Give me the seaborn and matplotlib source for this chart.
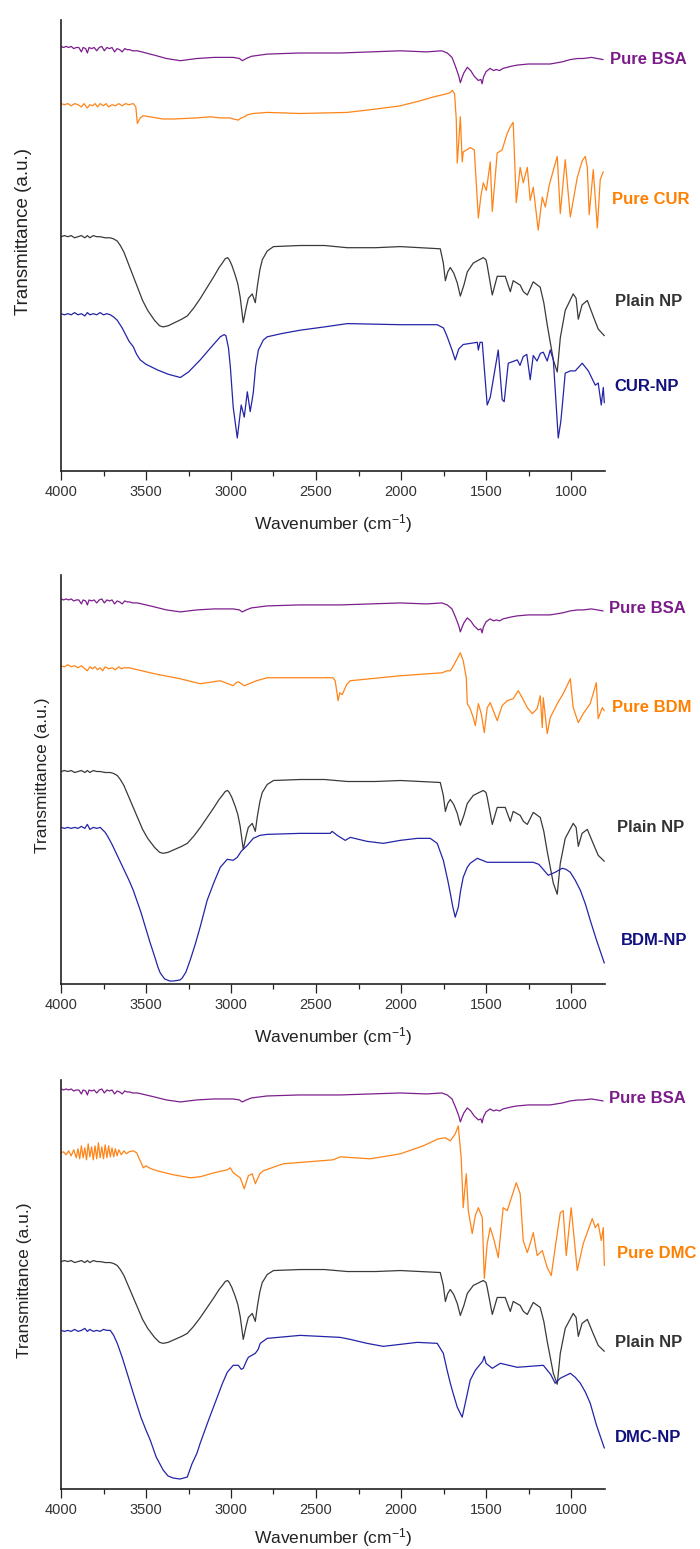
"""FTIR spectra of BSA, drugs and nanoparticles (three stacked panels)."""
import matplotlib
matplotlib.use("Agg")
import matplotlib.pyplot as plt
from matplotlib.ticker import MultipleLocator
import pandas as pd
import seaborn as sns

# ---- data: (wavenumber cm-1, transmittance a.u.) ----
# spectra shared by all panels, relative to their own baseline
PURE_BSA = [
    (4000, 0), (3985, -1), (3970, 0), (3955, -1), (3940, 0), (3925, -2), (3910, -1),
    (3895, -1), (3880, -5), (3870, -1), (3855, -2), (3845, -6), (3835, -1), (3820, -2),
    (3805, -1), (3790, -4), (3775, -1), (3760, 0), (3745, -4), (3730, -1), (3715, -2),
    (3700, -1), (3685, -5), (3670, -2), (3655, -3), (3640, -5), (3625, -2), (3610, -3),
    (3595, -3), (3580, -4), (3550, -4), (3500, -6), (3450, -8), (3380, -11), (3298, -13),
    (3250, -12), (3200, -11), (3100, -10), (2987, -10), (2950, -11), (2934, -13),
    (2910, -11), (2880, -9), (2787, -7), (2600, -6), (2358, -6), (2004, -4), (1850, -5),
    (1760, -4), (1728, -6), (1700, -10), (1680, -18), (1660, -27), (1651, -33),
    (1640, -28), (1630, -24), (1610, -19), (1590, -22), (1570, -27), (1545, -31),
    (1530, -30), (1523, -34), (1515, -28), (1500, -23), (1476, -20), (1455, -22),
    (1440, -21), (1420, -22), (1400, -20), (1350, -18), (1317, -17), (1250, -16),
    (1200, -16), (1123, -16), (1050, -14), (1005, -12), (960, -11), (929, -11),
    (880, -10), (811, -12),
]
PLAIN_NP = [
    (4000, 0), (3980, 1), (3960, 0), (3940, 1), (3920, -1), (3900, 0), (3880, 1),
    (3860, -1), (3845, 1), (3830, -1), (3810, 1), (3790, 0), (3770, 0), (3740, -1),
    (3710, -1), (3690, -2), (3669, -4), (3651, -8), (3630, -14), (3610, -22), (3580, -34),
    (3550, -46), (3520, -58), (3490, -67), (3450, -76), (3420, -81), (3399, -82),
    (3370, -81), (3330, -78), (3290, -75), (3257, -72), (3220, -65), (3180, -56),
    (3140, -46), (3100, -36), (3070, -28), (3051, -24), (3034, -20), (3020, -19),
    (3010, -21), (2995, -26), (2975, -35), (2960, -43), (2946, -55), (2928, -78),
    (2910, -64), (2898, -56), (2875, -52), (2857, -60), (2845, -45), (2830, -30),
    (2816, -21), (2787, -13), (2750, -9), (2593, -8), (2450, -8), (2316, -10),
    (2150, -10), (2004, -9), (1769, -11), (1751, -24), (1739, -40), (1725, -32),
    (1710, -28), (1690, -33), (1669, -42), (1651, -54), (1630, -44), (1610, -32),
    (1575, -24), (1540, -21), (1516, -19), (1500, -21), (1493, -26), (1463, -53),
    (1434, -36), (1410, -36), (1387, -36), (1357, -50), (1340, -40), (1299, -44),
    (1280, -50), (1257, -53), (1222, -41), (1181, -46), (1160, -60), (1140, -80),
    (1104, -112), (1081, -123), (1063, -92), (1034, -67), (987, -52), (970, -56),
    (957, -75), (935, -62), (904, -58), (870, -72), (840, -84), (804, -90),
]
BSA_BASE = [386, 386, 401]
NP_BASE = [213, 213, 228]

# panel-specific spectra (stacked values)
PURE_CUR = [
    (4000, 334), (3980, 333), (3960, 334), (3940, 332), (3920, 334), (3900, 333),
    (3880, 331), (3865, 334), (3845, 330), (3830, 333), (3815, 332), (3800, 334),
    (3785, 331), (3770, 334), (3750, 332), (3735, 334), (3720, 331), (3700, 333),
    (3680, 332), (3660, 334), (3640, 332), (3620, 334), (3600, 333), (3575, 334),
    (3560, 331), (3551, 316), (3534, 321), (3516, 323), (3400, 320), (3339, 320),
    (3200, 321), (3122, 322), (3063, 321), (3004, 321), (2987, 320), (2957, 319),
    (2940, 321), (2922, 322), (2900, 324), (2869, 325), (2787, 326), (2593, 325),
    (2316, 326), (2150, 329), (2004, 332), (1900, 336), (1810, 340), (1730, 343),
    (1710, 344), (1698, 346), (1685, 343), (1675, 320), (1669, 280), (1660, 300),
    (1651, 322), (1645, 300), (1640, 281), (1634, 290), (1593, 294), (1569, 292),
    (1545, 230), (1530, 250), (1516, 262), (1498, 255), (1475, 281), (1463, 236),
    (1434, 289), (1405, 292), (1375, 307), (1357, 313), (1340, 317), (1322, 244),
    (1299, 276), (1281, 262), (1257, 276), (1240, 246), (1222, 258), (1193, 219),
    (1169, 249), (1151, 240), (1128, 260), (1081, 286), (1063, 234), (1034, 283),
    (1004, 231), (963, 267), (934, 282), (916, 286), (904, 276), (893, 233),
    (869, 274), (845, 221), (828, 265), (810, 272),
]
CUR_NP = [
    (4000, 143), (3980, 142), (3960, 143), (3940, 142), (3920, 144), (3900, 142),
    (3880, 143), (3860, 141), (3845, 144), (3830, 142), (3810, 143), (3790, 142),
    (3770, 144), (3750, 142), (3730, 143), (3710, 142), (3690, 140), (3669, 137),
    (3640, 130), (3600, 118), (3575, 113), (3555, 106), (3534, 101), (3500, 97),
    (3434, 92), (3370, 88), (3298, 85), (3250, 90), (3181, 101), (3120, 112),
    (3063, 122), (3040, 124), (3030, 123), (3015, 112), (3004, 95), (2987, 58),
    (2963, 30), (2940, 60), (2922, 49), (2904, 72), (2887, 54), (2869, 71), (2855, 95),
    (2839, 110), (2810, 119), (2787, 122), (2700, 125), (2593, 128), (2450, 131),
    (2316, 134), (2004, 133), (1787, 133), (1750, 130), (1728, 122), (1700, 110),
    (1681, 101), (1660, 111), (1634, 115), (1551, 117), (1545, 110), (1535, 117),
    (1522, 117), (1493, 60), (1475, 67), (1428, 110), (1405, 65), (1393, 63),
    (1369, 98), (1316, 101), (1300, 96), (1281, 104), (1260, 106), (1240, 83),
    (1222, 105), (1200, 100), (1180, 107), (1163, 108), (1140, 100), (1122, 110),
    (1104, 101), (1075, 30), (1060, 45), (1052, 58), (1034, 89), (1004, 91),
    (975, 91), (934, 98), (898, 91), (857, 78), (840, 80), (822, 60), (810, 76),
    (804, 62),
]
PURE_BDM = [
    (4000, 319), (3980, 318), (3960, 320), (3940, 318), (3920, 319), (3900, 317),
    (3880, 319), (3860, 316), (3845, 314), (3830, 318), (3815, 316), (3800, 318),
    (3785, 315), (3770, 317), (3755, 314), (3740, 318), (3720, 316), (3700, 317),
    (3680, 315), (3660, 318), (3645, 316), (3630, 317), (3600, 317), (3575, 316),
    (3450, 311), (3300, 306), (3181, 301), (3063, 304), (2987, 299), (2970, 302),
    (2957, 303), (2922, 299), (2850, 304), (2787, 307), (2400, 307), (2387, 304),
    (2370, 284), (2360, 292), (2346, 290), (2320, 300), (2299, 304), (2004, 309),
    (1757, 312), (1730, 314), (1710, 314), (1698, 317), (1651, 332), (1634, 324),
    (1616, 307), (1610, 281), (1593, 276), (1575, 267), (1563, 259), (1545, 281),
    (1528, 271), (1510, 252), (1493, 277), (1475, 282), (1434, 264), (1405, 279),
    (1375, 284), (1340, 286), (1310, 294), (1287, 287), (1257, 277), (1228, 271),
    (1199, 276), (1181, 289), (1169, 257), (1163, 287), (1140, 251), (1122, 267),
    (1081, 281), (1046, 291), (1004, 306), (987, 277), (957, 262), (928, 271),
    (887, 281), (851, 302), (840, 266), (816, 277), (804, 274),
]
BDM_NP = [
    (4000, 157), (3980, 156), (3960, 157), (3940, 156), (3920, 157), (3900, 156),
    (3880, 158), (3860, 156), (3845, 160), (3830, 155), (3810, 157), (3790, 156),
    (3769, 157), (3740, 152), (3722, 147), (3700, 140), (3650, 122), (3600, 104),
    (3575, 94), (3530, 72), (3500, 55), (3475, 41), (3450, 28), (3430, 17), (3416, 11),
    (3390, 5), (3360, 3), (3340, 3), (3300, 4), (3287, 6), (3265, 12), (3240, 24),
    (3210, 40), (3180, 58), (3140, 84), (3100, 102), (3063, 117), (3022, 125),
    (2987, 124), (2963, 127), (2940, 133), (2904, 139), (2869, 146), (2830, 149),
    (2787, 150), (2593, 151), (2417, 151), (2405, 153), (2375, 149), (2328, 144),
    (2298, 147), (2200, 143), (2104, 141), (2004, 144), (1904, 146), (1828, 146),
    (1787, 141), (1751, 124), (1725, 104), (1710, 91), (1695, 77), (1681, 67),
    (1663, 77), (1650, 93), (1634, 107), (1610, 117), (1593, 121), (1551, 126),
    (1493, 122), (1416, 122), (1222, 122), (1190, 120), (1169, 116), (1134, 109),
    (1093, 112), (1052, 116), (1030, 115), (1004, 112), (975, 104), (945, 94),
    (915, 80), (887, 64), (850, 44), (804, 21),
]
PURE_DMC = [
    (4000, 337), (3985, 338), (3970, 335), (3955, 339), (3940, 334), (3925, 340),
    (3910, 332), (3900, 341), (3890, 331), (3880, 344), (3870, 332), (3860, 342),
    (3850, 330), (3840, 346), (3830, 333), (3820, 343), (3810, 330), (3800, 344),
    (3790, 331), (3780, 347), (3770, 332), (3760, 343), (3750, 331), (3740, 345),
    (3730, 332), (3720, 344), (3710, 333), (3700, 342), (3690, 333), (3680, 341),
    (3670, 334), (3660, 340), (3645, 335), (3630, 339), (3615, 336), (3600, 338),
    (3575, 339), (3555, 337), (3534, 329), (3516, 322), (3500, 324), (3492, 323),
    (3470, 321), (3434, 319), (3340, 315), (3240, 312), (3181, 313), (3100, 317),
    (3022, 320), (3004, 322), (2987, 317), (2946, 312), (2922, 301), (2898, 314),
    (2875, 316), (2857, 306), (2830, 316), (2810, 319), (2693, 326), (2399, 330),
    (2358, 333), (2181, 331), (2004, 336), (1869, 344), (1781, 351), (1739, 352),
    (1710, 349), (1681, 356), (1663, 364), (1646, 332), (1634, 282), (1625, 300),
    (1616, 316), (1604, 279), (1581, 256), (1563, 274), (1545, 282), (1522, 272),
    (1510, 211), (1493, 246), (1475, 262), (1452, 249), (1428, 232), (1399, 282),
    (1375, 279), (1322, 307), (1299, 296), (1281, 249), (1257, 237), (1240, 246),
    (1222, 257), (1199, 234), (1169, 239), (1140, 222), (1116, 214), (1093, 242),
    (1063, 277), (1046, 279), (1028, 234), (999, 282), (963, 219), (928, 246),
    (875, 271), (857, 262), (840, 266), (822, 249), (810, 262), (804, 224),
]
DMC_NP = [
    (4000, 159), (3980, 158), (3960, 159), (3940, 158), (3920, 160), (3900, 158),
    (3880, 159), (3860, 161), (3845, 158), (3830, 160), (3810, 158), (3790, 159),
    (3770, 158), (3750, 160), (3730, 159), (3710, 159), (3690, 154), (3669, 146),
    (3640, 132), (3600, 110), (3575, 96), (3530, 72), (3500, 59), (3475, 49),
    (3440, 32), (3399, 19), (3370, 13), (3340, 11), (3300, 10), (3257, 12), (3230, 25),
    (3200, 36), (3181, 46), (3130, 70), (3081, 92), (3050, 106), (3022, 117),
    (2987, 124), (2957, 124), (2940, 120), (2928, 121), (2910, 128), (2898, 132),
    (2857, 136), (2840, 140), (2828, 146), (2787, 151), (2593, 154), (2358, 152),
    (2299, 150), (2200, 146), (2104, 143), (1904, 147), (1787, 146), (1751, 136),
    (1730, 120), (1710, 106), (1690, 94), (1669, 82), (1640, 72), (1622, 86),
    (1593, 109), (1563, 119), (1520, 128), (1510, 133), (1500, 126), (1463, 121),
    (1416, 126), (1316, 122), (1163, 124), (1120, 115), (1093, 106), (1063, 111),
    (1004, 116), (975, 112), (945, 106), (915, 97), (887, 86), (850, 64), (804, 41),
]

DRUG_LABELS = ["Pure CUR", "Pure BDM", "Pure DMC"]
NP_LABELS = ["CUR-NP", "BDM-NP", "DMC-NP"]
DRUG_SPECTRA = [PURE_CUR, PURE_BDM, PURE_DMC]
LOADED_SPECTRA = [CUR_NP, BDM_NP, DMC_NP]

# ---- style ----
PURPLE, ORANGE, GRAY, BLUE = "#7d1e8e", "#ff8418", "#3a3a3a", "#2424a8"
TEXT_COLORS = ["#7b1c8a", "#ff8000", "#333333", "#10107f"]

# label anchors: (x in axes fraction, y in data units), per panel, order BSA/drug/NP/loaded
LABEL_POS = [
    [(1.009, 374), (1.013, 247), (1.018, 154), (1.018, 77)],
    [(1.007, 376), (1.013, 277), (1.022, 157), (1.029, 44)],
    [(1.007, 391), (1.022, 236), (1.018, 147), (1.018, 52)],
]
# axes rectangles in pixels: (top, bottom)
PANEL_PX = [(20, 471), (575, 984), (1080, 1489)]
YLABEL_X = [-0.053, -0.020, -0.053]
YLABEL_SIZE = [13.5, 12.5, 12.5]
XLABEL_DROP = [41, 41, 37]
W, H = 700, 1549

sns.set_style("ticks")
plt.rcParams["font.family"] = ["Liberation Sans", "DejaVu Sans"]
plt.rcParams["mathtext.default"] = "regular"


def frame(points, offset=0):
    df = pd.DataFrame(points, columns=["wn", "t"])
    df["t"] = df["t"] + offset
    return df


fig = plt.figure(figsize=(W / 100, H / 100), dpi=100)

for i, (top, bot) in enumerate(PANEL_PX):
    ax = fig.add_axes([61 / W, (H - bot) / H, 544 / W, (bot - top) / H])
    series = [
        (frame(PURE_BSA, BSA_BASE[i]), PURPLE, "Pure BSA"),
        (frame(DRUG_SPECTRA[i]), ORANGE, DRUG_LABELS[i]),
        (frame(PLAIN_NP, NP_BASE[i]), GRAY, "Plain NP"),
        (frame(LOADED_SPECTRA[i]), BLUE, NP_LABELS[i]),
    ]
    for k, (df, color, label) in enumerate(series):
        sns.lineplot(data=df, x="wn", y="t", ax=ax, color=color, lw=0.9,
                     estimator=None, sort=False)
        lx, ly = LABEL_POS[i][k]
        ax.text(lx, ly, label, transform=ax.get_yaxis_transform(),
                color=TEXT_COLORS[k], fontsize=12, fontweight="bold",
                ha="left", va="center", clip_on=False)

    ax.set_xlim(4000, 800)
    ax.set_ylim(0, 410)
    ax.set_yticks([])
    ax.xaxis.set_major_locator(MultipleLocator(500))
    ax.xaxis.set_minor_locator(MultipleLocator(250))
    ax.tick_params(axis="x", which="major", length=6.5, width=0.9, pad=3.5,
                   labelsize=10.5, colors="#222222", labelcolor="#333333")
    ax.tick_params(axis="x", which="minor", length=3.5, width=0.9, colors="#222222")
    sns.despine(ax=ax)
    for side in ("left", "bottom"):
        ax.spines[side].set_linewidth(1.2)
        ax.spines[side].set_color("#222222")

    h = bot - top
    ax.set_xlabel("Wavenumber (cm$^{-1}$)", fontsize=12.5, color="#222222")
    ax.xaxis.set_label_coords(0.5, -XLABEL_DROP[i] / h)
    ax.set_ylabel("Transmittance (a.u.)", fontsize=YLABEL_SIZE[i], color="#222222")
    ax.yaxis.set_label_coords(YLABEL_X[i], (bot - (top + bot) / 2 + (14 if i == 0 else 4)) / h)

fig.savefig("out.png", dpi=100)
